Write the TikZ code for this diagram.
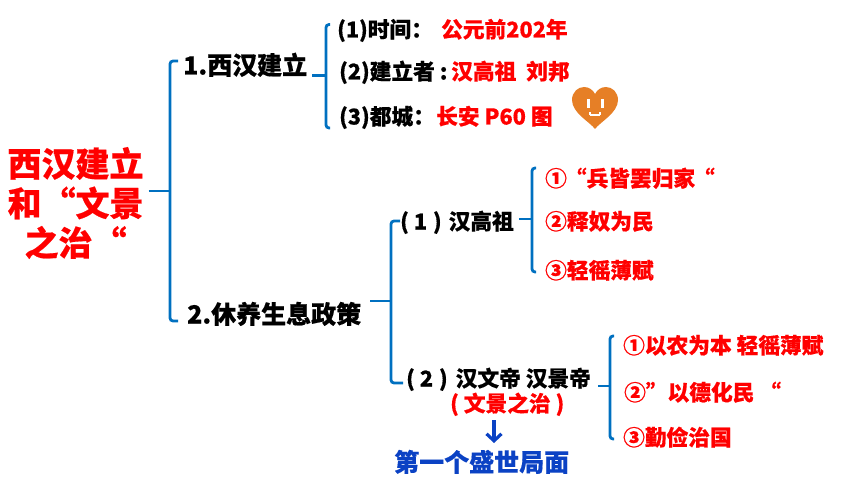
\documentclass[tikz,border=0pt]{standalone}
\usepackage{fontspec}
\setmainfont{Noto Sans CJK SC}[BoldFeatures={FakeBold=0.5}]
\usetikzlibrary{arrows.meta}
\definecolor{linkblue}{HTML}{0070C0}
\definecolor{deepblue}{HTML}{0B42C4}
\definecolor{heart}{HTML}{E67F26}
\tikzset{
  x=1pt,y=-1pt,
  lbl/.style={anchor=west,inner sep=0pt,font=\bfseries\fontsize{21.7}{25}\selectfont,text=black,text height=19pt,text depth=2pt},
  redlbl/.style={lbl,text=red},
  head/.style={lbl,font=\bfseries\fontsize{25}{28}\selectfont,text height=22pt,text depth=3pt},
  roottext/.style={anchor=center,inner sep=0pt,align=center,text=red,font=\bfseries\fontsize{34}{39.5}\selectfont},
  bluelbl/.style={head,text=deepblue},
  br/.style={draw=linkblue,line width=2.8pt,rounded corners=3pt},
  downarrow/.style={draw=deepblue,line width=3.2pt,-{Straight Barb[length=7pt,width=15pt,line width=3.2pt]}}
}
\begin{document}
\begin{tikzpicture}
\useasboundingbox (0,0) rectangle (860,484);
% texts
\node[roottext] (root) at (75.5,203) {西汉建立\\和“文景\\之治“};
\node[head] (n1) at (183,65) {1.西汉建立};
\node[head] (n2) at (187,314) {2.休养生息政策};
\node[lbl] (a1) at (337,29) {(1)时间：};
\node[redlbl] (a1v) at (441,29) {公元前202年};
\node[lbl] (a2) at (339,71) {(2)建立者 :};
\node[redlbl] (a2v) at (451,71) {汉高祖\ \ 刘邦};
\node[lbl] (a3) at (339,116) {(3)都城：};
\node[redlbl] (a3v) at (436,116) {长安 P60 图};
\node[lbl] (b1) at (400,221) {( 1\hspace{1pt} )\hspace{2pt} 汉高祖};
\node[redlbl] (c1) at (545,178) {①\hspace{-2pt}“兵皆罢归家\hspace{-2pt}“};
\node[redlbl] (c2) at (545,221) {②释奴为民};
\node[redlbl] (c3) at (545,270) {③轻徭薄赋};
\node[lbl] (b2) at (406,378) {( 2\hspace{1pt} )\hspace{3pt} 汉文帝 汉景帝};
\node[redlbl] (b2n) at (450,403) {( 文景之治 )};
\node[redlbl] (d1) at (623,345) {①以农为本 轻徭薄赋};
\node[redlbl] (d2) at (624,392) {②”以德化民 “};
\node[redlbl] (d3) at (623,437) {③勤俭治国};
\node[bluelbl] (res) at (394,462) {第一个盛世局面};
% junctions
\coordinate (j0) at (170,191);
\coordinate (j1) at (326,75.5);
\coordinate (j2) at (391,301);
\coordinate (j3) at (532,219);
\coordinate (j4) at (610,386);
\coordinate (arrowtop) at (494,420);
\coordinate (arrowtip) at (494,443);
% brackets
\draw[br] ([shift={(-5,-4)}]n1.west) -| (j0) |- ([shift={(-9,7)}]n2.west);
\draw[br,rounded corners=0pt] ([shift={(5,-12)}]root.east) -- (j0);
\draw[br] ([shift={(-7,-4.5)}]a1.west) -| (j1) |- ([shift={(-9,12)}]a3.west);
\draw[br,rounded corners=0pt] ([shift={(5,10.5)}]n1.east) -- (j1);
\draw[br] (b1.west) -| (j2) |- ([shift={(-3,5)}]b2.west);
\draw[br,rounded corners=0pt] ([shift={(9,-13)}]n2.east) -- (j2);
\draw[br] ([shift={(-9,-10)}]c1.west) -| (j3) |- ([shift={(-9,2)}]c3.west);
\draw[br,rounded corners=0pt] ([shift={(5,-2)}]b1.east) -- (j3);
\draw[br] ([shift={(-9,-9)}]d1.west) -| (j4) |- ([shift={(-9,2)}]d3.west);
\draw[br,rounded corners=0pt] ([shift={(7,8)}]b2.east) -- (j4);
\draw[downarrow] (arrowtop) -- (arrowtip);
% heart
\fill[heart] (595,129) .. controls (590,122) and (572,113) .. (572,100)
  .. controls (572,92) and (578,87) .. (584,87)
  .. controls (589,87) and (593,90) .. (595,94)
  .. controls (597,90) and (601,87) .. (606,87)
  .. controls (612,87) and (618,92) .. (618,100)
  .. controls (618,113) and (600,122) .. (595,129) -- cycle;
\fill[white] (586.5,99) rectangle (589.5,108);
\fill[white] (600.5,99) rectangle (603.5,108);
\fill[white] (589.5,114) rectangle (599.5,116.5);
\fill[white] (588.5,112) rectangle (590.5,115);
\fill[white] (598.5,112) rectangle (600.5,115);
\end{tikzpicture}
\end{document}
